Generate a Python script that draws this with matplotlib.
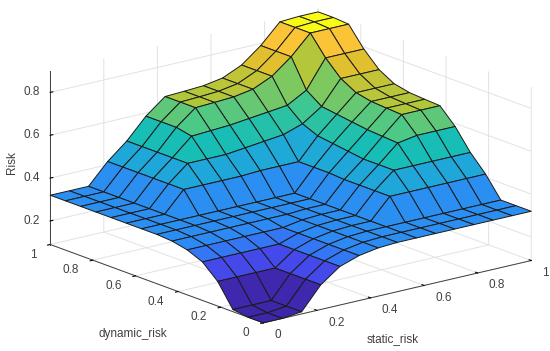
import matplotlib
matplotlib.use("Agg")
import matplotlib.pyplot as plt
import numpy as np
from matplotlib.colors import LinearSegmentedColormap, Normalize
from mpl_toolkits.mplot3d import proj3d

plt.rcParams['font.family'] = ['Liberation Sans', 'DejaVu Sans']

static_risk = [0, 1/14, 2/14, 3/14, 4/14, 5/14, 6/14, 7/14, 8/14, 9/14, 10/14, 11/14, 12/14, 13/14, 1]
dynamic_risk = [0, 1/14, 2/14, 3/14, 4/14, 5/14, 6/14, 7/14, 8/14, 9/14, 10/14, 11/14, 12/14, 13/14, 1]

# one row per dynamic_risk value
risk = [
    [.09, .09, .10, .205, .27, .30, .315, .32, .32, .32, .32, .32, .32, .32, .32],
    [.09, .09, .10, .205, .27, .30, .315, .32, .32, .32, .32, .32, .32, .32, .32],
    [.10, .10, .10, .205, .27, .30, .315, .32, .32, .32, .32, .32, .32, .32, .32],
    [.205, .205, .205, .205, .27, .30, .315, .32, .32, .415, .415, .415, .415, .415, .415],
    [.27, .27, .27, .27, .27, .30, .315, .32, .32, .415, .49, .49, .49, .49, .49],
    [.30, .30, .30, .30, .30, .30, .315, .32, .32, .415, .49, .57, .585, .585, .585],
    [.315, .315, .315, .315, .315, .315, .315, .32, .32, .415, .49, .575, .656, .656, .656],
    [.32, .32, .32, .32, .32, .32, .32, .32, .32, .42, .50, .58, .66, .66, .66],
    [.32, .32, .32, .32, .32, .32, .32, .32, .32, .42, .51, .59, .665, .665, .665],
    [.32, .32, .32, .415, .415, .415, .415, .42, .42, .42, .52, .60, .68, .68, .68],
    [.32, .32, .32, .415, .49, .49, .49, .50, .51, .52, .55, .61, .72, .72, .72],
    [.32, .32, .32, .415, .49, .57, .575, .58, .59, .60, .61, .66, .79, .79, .79],
    [.32, .32, .32, .415, .49, .585, .656, .66, .665, .68, .72, .79, .88, .88, .88],
    [.32, .32, .32, .415, .49, .585, .656, .66, .665, .68, .72, .79, .88, .885, .885],
    [.32, .32, .32, .415, .49, .585, .656, .66, .665, .68, .72, .79, .88, .885, .885],
]

x_ticks = [0, 0.2, 0.4, 0.6, 0.8, 1]
y_ticks = [0, 0.2, 0.4, 0.6, 0.8, 1]
z_ticks = [0.2, 0.4, 0.6, 0.8]
x_labels = ['0', '0.2', '0.4', '0.6', '0.8', '1']
y_labels = ['0', '0.2', '0.4', '0.6', '0.8', '1']
z_labels = ['0.2', '0.4', '0.6', '0.8']

parula = LinearSegmentedColormap.from_list("parula", [
    (0.00, "#3e26a8"), (0.13, "#4840e8"), (0.25, "#2e87f7"), (0.40, "#20a5dc"),
    (0.50, "#17bdb6"), (0.60, "#48c88a"), (0.70, "#a9c83c"), (0.80, "#e6bf2f"),
    (0.90, "#fec538"), (1.00, "#f9fb15"),
])

X, Y = np.meshgrid(static_risk, dynamic_risk)
Z = np.array(risk)
colors = parula(Normalize(Z.min(), Z.max())(Z))

fig = plt.figure(figsize=(5.5, 3.51), dpi=100)
ax = fig.add_axes([11 / 550, 5 / 351, 1, 1], projection='3d', proj_type='ortho')
ax.view_init(elev=17, azim=-128.5)
ax.set_box_aspect((1, 1, 0.53), zoom=1.43)

surf = ax.plot_surface(X, Y, Z, facecolors=colors, rstride=1, cstride=1, shade=False,
                       edgecolor='#1a1a1a', linewidth=0.7)
surf.set_clip_on(False)

ax.set_xlim(0, 1, view_margin=0)
ax.set_ylim(0, 1, view_margin=0)
ax.set_zlim(0.09, 0.9, view_margin=0)
ax.set_xticks(x_ticks)
ax.set_yticks(y_ticks)
ax.set_zticks(z_ticks)
ax.set_xticklabels([])
ax.set_yticklabels([])
ax.set_zticklabels([])

for axis in (ax.xaxis, ax.yaxis, ax.zaxis):
    axis.set_pane_color((1, 1, 1, 0))
    axis.pane.set_edgecolor((1, 1, 1, 0))
    axis.line.set_color('#404040')
    axis.line.set_linewidth(0.7)
    axis._axinfo['grid']['color'] = '#e2e2e2'
    axis._axinfo['grid']['linewidth'] = 0.7
    axis._axinfo['tick']['color'] = '#404040'
    axis._axinfo['tick']['inward_factor'] = 0
    axis._axinfo['tick']['outward_factor'] = 0.12
ax.yaxis._axinfo['tick']['inward_factor'] = 0.12
ax.yaxis._axinfo['tick']['outward_factor'] = 0

fig.canvas.draw()


# tick labels sit off the axes by hand, the automatic ones drift along the axis
def tick_label(x, y, z, s, ha):
    px, py, _ = proj3d.proj_transform(x, y, z, ax.get_proj())
    ax.text2D(px, py, s, transform=ax.transData, fontsize=8.5, color='#404040', ha=ha, va='center')


for v, s in zip(x_ticks, x_labels):
    tick_label(v, -0.052, 0.09 - 0.038, s, 'left')
for v, s in zip(y_ticks, y_labels):
    tick_label(-0.052, v, 0.09 - 0.033, s, 'right')
for v, s in zip(z_ticks, z_labels):
    tick_label(-0.023, 1.018, v, s, 'right')

fig.text(133 / 550, 1 - 334 / 351, 'dynamic_risk', fontsize=8.5, color='#404040', ha='center', va='center')
fig.text(393 / 550, 1 - 339 / 351, 'static_risk', fontsize=8.5, color='#404040', ha='center', va='center')
fig.text(12 / 550, 1 - 163 / 351, 'Risk', fontsize=8.5, color='#404040', ha='center', va='center', rotation=90)

fig.savefig("out.png", dpi=100)
